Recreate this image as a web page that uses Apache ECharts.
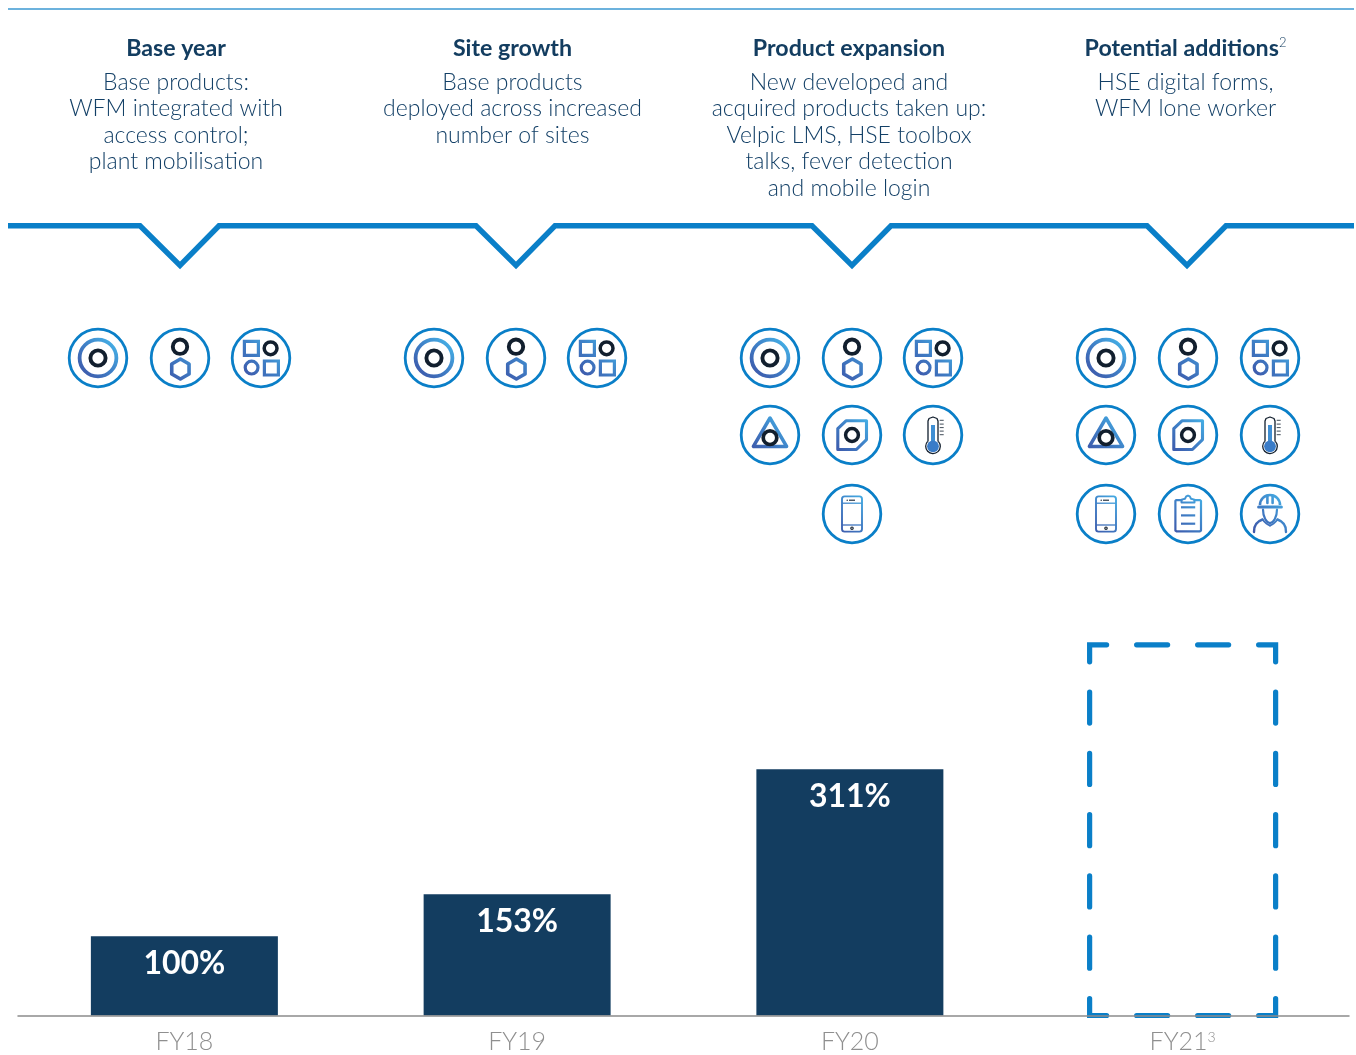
<!DOCTYPE html>
<html>
<head>
<meta charset="utf-8">
<style>html,body{margin:0;padding:0;background:#fff}#chart{width:1356px;height:1055px}</style>
<script src="https://cdn.jsdelivr.net/npm/echarts@6/dist/echarts.min.js"></script>
</head>
<body>
<div id="chart"></div>
<script>
// Chart values and labels
var categories = ['FY18', 'FY19', 'FY20', 'FY21'];
var categorySup = ['', '', '', '3'];
var usageValues = [100, 153, 311];
var usageLabels = ['100%', '153%', '311%'];
var potentialValue = 468;
var headings = ['Base year', 'Site growth', 'Product expansion', 'Potential additions'];
var headingSup = ['', '', '', '2'];
var descriptions = [
  ['Base products:', 'WFM integrated with', 'access control;', 'plant mobilisation'],
  ['Base products', 'deployed across increased', 'number of sites'],
  ['New developed and', 'acquired products taken up:', 'Velpic LMS, HSE toolbox', 'talks, fever detection', 'and mobile login'],
  ['HSE digital forms,', 'WFM lone worker']
];
var baseIcons = ['target', 'hex', 'shapes'];
var iconSets = [
  baseIcons,
  baseIcons,
  ['target', 'hex', 'shapes', 'triangle', 'polygon', 'thermo', null, 'phone'],
  ['target', 'hex', 'shapes', 'triangle', 'polygon', 'thermo', 'phone', 'clipboard', 'worker']
];

// Palette and type
var NAVY = '#133d60';
var BODY = '#123f66';
var RIBBON = '#0a7fc8';
var RULE = '#6cb2dd';
var INK = '#121f2e';
var FONT = 'Lato';
var glow = {
  type: 'linear', global: true, x: -18, y: 18, x2: 18, y2: -18,
  colorStops: [{ offset: 0, color: '#3d55a8' }, { offset: 0.5, color: '#3f7fc6' }, { offset: 1, color: '#45b6ea' }]
};

// Layout of the header and icon rows
var textCentres = [176, 512.5, 849, 1185.5];
var notchCentres = [180, 516, 852, 1187];
var iconColumns = [[98, 180, 261], [434, 516, 597], [770, 852, 933], [1106, 1188, 1270]];
var iconRows = [358, 435, 514];

function ring(cx, cy, r, lw, color) {
  return { type: 'circle', shape: { cx: cx, cy: cy, r: r }, style: { fill: 'none', stroke: color, lineWidth: lw } };
}
function poly(points, lw, color, closed) {
  return {
    type: closed ? 'polygon' : 'polyline', shape: { points: points },
    style: { fill: 'none', stroke: color, lineWidth: lw, lineJoin: 'round', lineCap: 'round' }
  };
}
function box(x, y, w, h, r, lw, color) {
  return { type: 'rect', shape: { x: x, y: y, width: w, height: h, r: r }, style: { fill: 'none', stroke: color, lineWidth: lw } };
}
function curve(x1, y1, c1x, c1y, c2x, c2y, x2, y2, lw, color) {
  return {
    type: 'bezierCurve', shape: { x1: x1, y1: y1, cpx1: c1x, cpy1: c1y, cpx2: c2x, cpy2: c2y, x2: x2, y2: y2 },
    style: { fill: 'none', stroke: color, lineWidth: lw, lineCap: 'round' }
  };
}
function hexPoints(cx, cy, r) {
  var pts = [];
  for (var i = 0; i < 6; i++) {
    var a = Math.PI / 3 * i - Math.PI / 2;
    pts.push([cx + r * Math.cos(a), cy + r * Math.sin(a)]);
  }
  return pts;
}

// Each product glyph, drawn around its own centre
var glyphs = {
  target: function () {
    return [ring(0, 0, 18.4, 3.8, glow), ring(0, 0, 7.6, 3.9, INK)];
  },
  hex: function () {
    return [ring(0, -11.3, 7.2, 3.9, INK), poly(hexPoints(0.4, 11, 10), 3.6, glow, true)];
  },
  shapes: function () {
    return [
      box(-16.6, -16.6, 14, 14, 0, 3.2, glow),
      ring(9.6, -9.7, 6.4, 3.5, INK),
      ring(-9.4, 9.6, 6.4, 3.2, glow),
      box(3.4, 3, 14, 14, 0, 3.2, glow)
    ];
  },
  triangle: function () {
    return [poly([[0, -17], [-16.6, 11.4], [16.6, 11.4]], 3.5, glow, true), ring(0, 2.7, 6.8, 3.7, INK)];
  },
  polygon: function () {
    return [
      poly([[14.5, -14.2], [-6, -14.2], [-14.2, -6.4], [-14.2, 14.5], [4.4, 14.5], [14.5, 4.6]], 3.1, glow, true),
      ring(0, 0, 6.4, 3.5, INK)
    ];
  },
  thermo: function () {
    return [
      { type: 'line', shape: { x1: 0, y1: -10, x2: 0, y2: 6 }, style: { stroke: '#3f8fd4', lineWidth: 4 } },
      { type: 'circle', shape: { cx: 0, cy: 11.3, r: 5.9 }, style: { fill: '#3a7cc8' } },
      poly([[-5, 6], [-5, -14], [-4, -16.5], [0, -18], [4, -16.5], [5, -14], [5, 6]], 1.3, INK, false),
      { type: 'arc', shape: { cx: 0, cy: 11.3, r: 7.3, startAngle: -0.75, endAngle: Math.PI + 0.75, clockwise: true }, style: { fill: 'none', stroke: INK, lineWidth: 1.3 } },
      { type: 'line', shape: { x1: 6.7, y1: -14.7, x2: 10.7, y2: -14.7 }, style: { stroke: INK, lineWidth: 0.8 } },
      { type: 'line', shape: { x1: 6.7, y1: -10.9, x2: 10.7, y2: -10.9 }, style: { stroke: INK, lineWidth: 0.8 } },
      { type: 'line', shape: { x1: 6.7, y1: -7.4, x2: 10.7, y2: -7.4 }, style: { stroke: INK, lineWidth: 0.8 } },
      { type: 'line', shape: { x1: 6.7, y1: -3.9, x2: 10.7, y2: -3.9 }, style: { stroke: INK, lineWidth: 0.8 } },
      { type: 'line', shape: { x1: 6.7, y1: -0.3, x2: 10.7, y2: -0.3 }, style: { stroke: INK, lineWidth: 0.8 } }
    ];
  },
  phone: function () {
    return [
      box(-10, -17.6, 20, 35.2, 2.6, 1.9, glow),
      { type: 'line', shape: { x1: -10, y1: -10.8, x2: 10, y2: -10.8 }, style: { stroke: glow, lineWidth: 1.3 } },
      { type: 'line', shape: { x1: -10, y1: 11, x2: 10, y2: 11 }, style: { stroke: glow, lineWidth: 1.3 } },
      { type: 'line', shape: { x1: -3, y1: -13.8, x2: 3, y2: -13.8 }, style: { stroke: INK, lineWidth: 1.1 } },
      { type: 'circle', shape: { cx: -4.8, cy: -13.8, r: 0.7 }, style: { fill: INK } },
      ring(0, 14.2, 1.2, 1.2, INK)
    ];
  },
  clipboard: function () {
    return [
      poly([[-6.5, -13.8], [-12, -13.8], [-12.6, -13], [-12.6, 16.5], [-11.4, 17.4], [11.8, 17.4], [13, 16.5], [13, -13], [12.2, -13.8], [6.5, -13.8]], 2.2, glow, false),
      poly([[-6.5, -11.6], [-6.5, -14.4], [-3, -15.2], [-1.8, -17.6], [0, -18.4], [1.8, -17.6], [3, -15.2], [6.5, -14.4], [6.5, -11.6], [-6.5, -11.6]], 2, glow, false),
      { type: 'line', shape: { x1: -7, y1: -6.7, x2: 7.2, y2: -6.7 }, style: { stroke: glow, lineWidth: 2.2 } },
      { type: 'line', shape: { x1: -7, y1: 1.4, x2: 7.2, y2: 1.4 }, style: { stroke: glow, lineWidth: 2.2 } },
      { type: 'line', shape: { x1: -7, y1: 9.7, x2: 7.2, y2: 9.7 }, style: { stroke: glow, lineWidth: 2.2 } }
    ];
  },
  worker: function () {
    return [
      { type: 'arc', shape: { cx: 0, cy: -9, r: 10, startAngle: Math.PI, endAngle: 0, clockwise: true }, style: { fill: 'none', stroke: glow, lineWidth: 2.6 } },
      poly([[-11.4, -7], [11.4, -7]], 3, glow, false),
      poly([[-2.6, -18.4], [-2.6, -11]], 2.6, glow, false),
      poly([[2.6, -18.4], [2.6, -11]], 2.6, glow, false),
      curve(-7, -4.5, -7, 3, -3.5, 9, 0, 9, 2.2, glow),
      curve(0, 9, 3.5, 9, 7, 3, 7, -4.5, 2.2, glow),
      curve(-16, 18, -16.5, 10.5, -13, 7.5, -7.5, 5.5, 2.4, glow),
      curve(16, 18, 16.5, 10.5, 13, 7.5, 7.5, 5.5, 2.4, glow),
      curve(-7.5, 5.5, -4, 10, -2, 11, 0, 11.5, 2, glow),
      curve(7.5, 5.5, 4, 10, 2, 11, 0, 11.5, 2, glow)
    ];
  }
};

// Header text, ribbon and icon grid sit on a graphic layer
var overlay = [];
overlay.push({
  type: 'rect', shape: { x: 8, y: 8, width: 1346, height: 2 },
  style: { fill: RULE }
});

var ribbonPoints = [[8, 225.8]];
notchCentres.forEach(function (c) {
  ribbonPoints.push([c - 40, 225.8], [c, 265.5], [c + 39, 225.8]);
});
ribbonPoints.push([1354, 225.8]);
overlay.push({
  type: 'polyline', shape: { points: ribbonPoints },
  style: { fill: 'none', stroke: RIBBON, lineWidth: 5.4, lineJoin: 'miter', miterLimit: 4 }
});

headings.forEach(function (h, i) {
  overlay.push({
    type: 'text', x: textCentres[i], y: 48.5,
    style: {
      text: h + (headingSup[i] ? '{sup|' + headingSup[i] + '}' : ''),
      x: 0, y: 0, align: 'center', verticalAlign: 'middle',
      fontFamily: FONT, fontSize: 23.2, fontWeight: 700, fill: NAVY,
      rich: { sup: { fontFamily: FONT, fontSize: 13, fontWeight: 300, fill: NAVY, padding: [0, 0, 11, 0] } }
    }
  });
  descriptions[i].forEach(function (line, j) {
    overlay.push({
      type: 'text', x: textCentres[i], y: 82.4 + j * 26.5,
      style: {
        text: line, x: 0, y: 0, align: 'center', verticalAlign: 'middle',
        fontFamily: FONT, fontSize: 23, fontWeight: 300, fill: BODY
      }
    });
  });
});

iconSets.forEach(function (set, col) {
  set.forEach(function (name, k) {
    if (!name) { return; }
    var children = [ring(0, 0, 28.8, 2.8, RIBBON)].concat(glyphs[name]());
    overlay.push({
      type: 'group',
      x: iconColumns[col][k % 3],
      y: iconRows[Math.floor(k / 3)],
      children: children
    });
  });
});

// Dashed outline of the potential FY21 bar, positioned through the axes
var BAR_WIDTH = 187;
function renderPotential(params, api) {
  var bottom = api.coord([api.value(0), 0]);
  var top = api.coord([api.value(0), api.value(1)]);
  var left = bottom[0] - BAR_WIDTH / 2 + 0.5;
  var right = left + BAR_WIDTH - 1;
  var yTop = top[1];
  var yBot = bottom[1];
  var stroke = { fill: 'none', stroke: RIBBON, lineWidth: 5.2, lineCap: 'round', lineJoin: 'miter' };
  var children = [];
  var arm = 17;
  var dash = 31;
  function corner(pts) {
    children.push({ type: 'polyline', shape: { points: pts }, style: stroke });
  }
  corner([[left, yTop + arm], [left, yTop], [left + arm, yTop]]);
  corner([[right - arm, yTop], [right, yTop], [right, yTop + arm]]);
  corner([[left, yBot - arm], [left, yBot], [left + arm, yBot]]);
  corner([[right - arm, yBot], [right, yBot], [right, yBot - arm]]);
  var w = right - left;
  var h = yBot - yTop;
  var gapX = (w - 2 * arm - 2 * dash) / 3;
  var gapY = (h - 2 * arm - 5 * dash) / 6;
  for (var i = 0; i < 2; i++) {
    var sx = left + arm + gapX + i * (dash + gapX);
    children.push({ type: 'line', shape: { x1: sx, y1: yTop, x2: sx + dash, y2: yTop }, style: stroke });
    children.push({ type: 'line', shape: { x1: sx, y1: yBot, x2: sx + dash, y2: yBot }, style: stroke });
  }
  for (var j = 0; j < 5; j++) {
    var sy = yTop + arm + gapY + j * (dash + gapY);
    children.push({ type: 'line', shape: { x1: left, y1: sy, x2: left, y2: sy + dash }, style: stroke });
    children.push({ type: 'line', shape: { x1: right, y1: sy, x2: right, y2: sy + dash }, style: stroke });
  }
  return { type: 'group', children: children };
}

var chart = echarts.init(document.getElementById('chart'));
chart.setOption({
  animation: false,
  backgroundColor: '#ffffff',
  grid: { left: 18, right: 7, top: 619.5, bottom: 39.5 },
  xAxis: {
    type: 'category',
    data: categories,
    z: 5,
    axisTick: { show: false },
    axisLine: { lineStyle: { color: '#8c8c8c', width: 1.5 } },
    axisLabel: {
      margin: 14,
      fontFamily: FONT, fontSize: 25, fontWeight: 300, color: '#8f8f8f',
      formatter: function (value, idx) {
        return categorySup[idx] ? value + '{sup|' + categorySup[idx] + '}' : value;
      },
      rich: { sup: { fontFamily: FONT, fontSize: 14, fontWeight: 300, color: '#8f8f8f', padding: [0, 0, 10, 0] } }
    }
  },
  yAxis: { type: 'value', min: 0, max: 500, show: false },
  series: [
    {
      type: 'bar',
      data: usageValues,
      barWidth: BAR_WIDTH,
      itemStyle: { color: NAVY },
      label: {
        show: true, position: 'insideTop', distance: 11,
        fontFamily: FONT, fontSize: 32, fontWeight: 700, color: '#ffffff',
        formatter: function (p) { return usageLabels[p.dataIndex]; }
      }
    },
    {
      type: 'custom',
      data: [[3, potentialValue]],
      encode: { x: 0, y: 1 },
      renderItem: renderPotential,
      z: 1
    }
  ],
  graphic: { elements: overlay }
});
</script>
</body>
</html>
